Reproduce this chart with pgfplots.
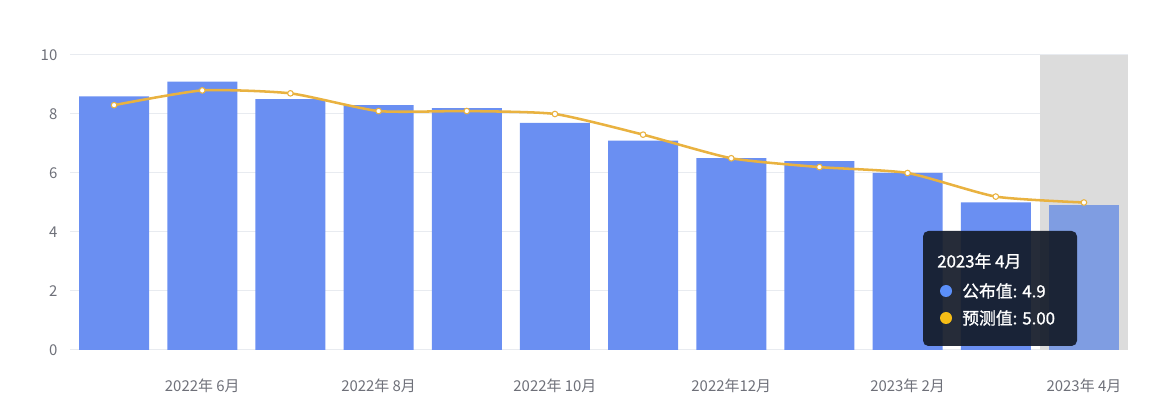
\documentclass[border=0pt]{standalone}
\usepackage{fontspec}
\setmainfont{Noto Sans CJK SC}
\newfontfamily\tipfont[FakeBold=1.2]{Noto Sans CJK SC}
\usepackage{pgfplots}
\pgfplotsset{compat=1.18}
\definecolor{barblue}{HTML}{6A8FF2}
\definecolor{barlight}{HTML}{7F9DE2}
\definecolor{bandgray}{HTML}{DCDCDC}
\definecolor{linegold}{HTML}{E9B240}
\definecolor{gridgray}{HTML}{E8EBF0}
\definecolor{labelgray}{HTML}{6E7079}
\definecolor{tipdark}{HTML}{131A28}
\definecolor{dotblue}{HTML}{5B8FF9}
\definecolor{dotgold}{HTML}{F6BD16}
\begin{document}
\begin{tikzpicture}
\path[use as bounding box] (0pt,0pt) rectangle (877.5pt,312.75pt);
\begin{axis}[
  at={(52.5pt,50.25pt)}, anchor=south west,
  scale only axis, width=793.5pt, height=221.25pt,
  xmin=-0.5, xmax=11.5, ymin=0, ymax=10,
  ytick={0,2,4,6,8,10},
  xtick={1,3,5,7,9,11},
  xticklabels={2022年 6月, 2022年 8月, 2022年 10月, 2022年12月, 2023年 2月, 2023年 4月},
  axis line style={draw=none},
  major tick length=0pt,
  ymajorgrids, grid style={color=gridgray, line width=0.75pt},
  tick label style={color=labelgray, font=\fontsize{11.2}{13}\selectfont},
  xticklabel style={yshift=-18pt},
  yticklabel style={xshift=-6pt},
  /pgf/number format/assume math mode=true,
  clip=false,
]
\addplot[ybar, bar shift=0pt, bar width=66pt, fill=bandgray, draw=none] coordinates {(11,10)};
\addplot[ybar, bar shift=0pt, bar width=52.5pt, fill=barblue, draw=none] coordinates {
  (0,8.6) (1,9.1) (2,8.5) (3,8.3) (4,8.2) (5,7.7) (6,7.1) (7,6.5) (8,6.4) (9,6.0) (10,5.0)};
\addplot[ybar, bar shift=0pt, bar width=52.5pt, fill=barlight, draw=none] coordinates {(11,4.9)};
\addplot[smooth, tension=0.35, color=linegold, line width=1.9pt, mark=*, mark size=2.1pt,
  mark options={fill=white, draw=linegold, line width=0.8pt}] coordinates {
  (0,8.3) (1,8.8) (2,8.7) (3,8.1) (4,8.1) (5,8.0) (6,7.3) (7,6.5) (8,6.2) (9,6.0) (10,5.2) (11,5.0)};
\end{axis}
\fill[tipdark, fill opacity=0.92, rounded corners=4pt] (692.25pt,53.25pt) rectangle (807.75pt,139.5pt);
\node[anchor=west, text=white, font=\tipfont\fontsize{12.6}{14}\selectfont, inner sep=0pt] at (702.75pt,117pt) {2023年 4月};
\fill[dotblue] (709.5pt,94.5pt) circle (4.5pt);
\fill[dotgold] (709.5pt,74.25pt) circle (4.5pt);
\node[anchor=west, text=white, font=\tipfont\fontsize{12.6}{14}\selectfont, inner sep=0pt] at (721.5pt,94.5pt) {公布值: 4.9};
\node[anchor=west, text=white, font=\tipfont\fontsize{12.6}{14}\selectfont, inner sep=0pt] at (721.5pt,74.25pt) {预测值: 5.00};
\end{tikzpicture}
\end{document}
